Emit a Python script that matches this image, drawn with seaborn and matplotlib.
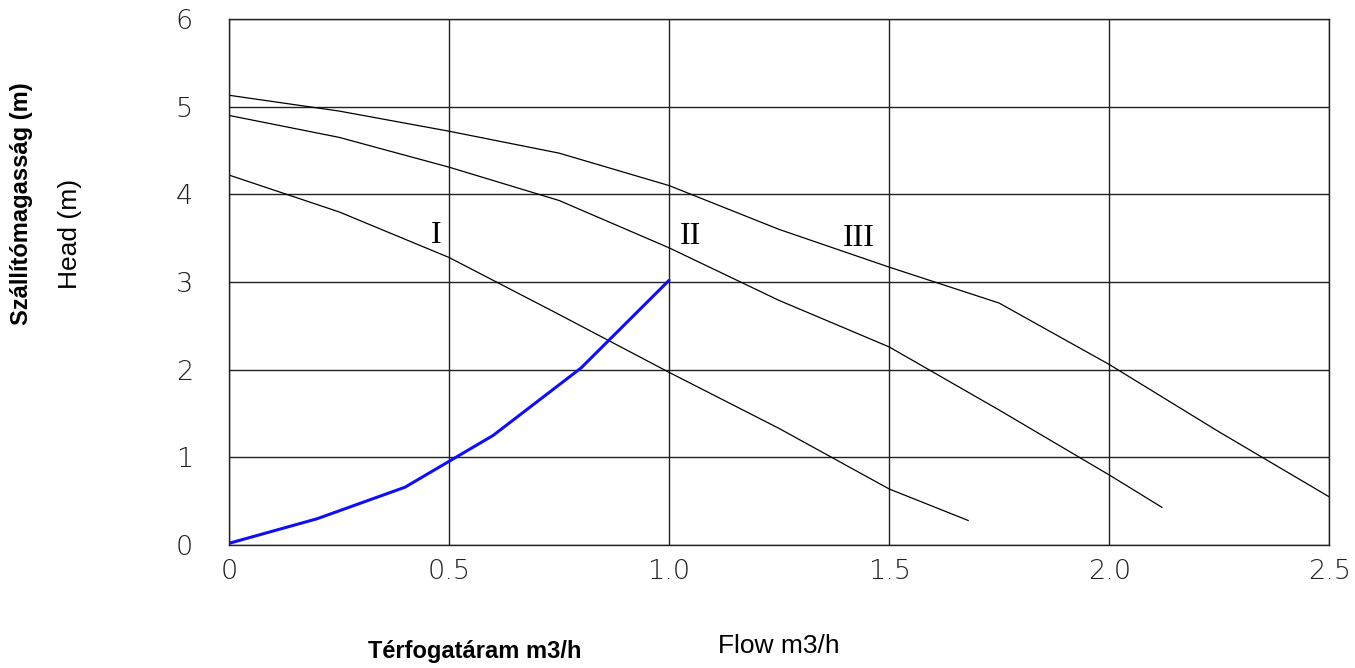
import pandas as pd
import seaborn as sns
import matplotlib
matplotlib.use('Agg')
import matplotlib.pyplot as plt

# Pump curves (flow m3/h -> head m)
flow_I = [0, 0.25, 0.5, 0.75, 1.0, 1.25, 1.5, 1.68]
head_I = [4.22, 3.80, 3.28, 2.63, 1.97, 1.33, 0.64, 0.28]

flow_II = [0, 0.25, 0.5, 0.75, 1.0, 1.25, 1.5, 1.75, 2.0, 2.12]
head_II = [4.90, 4.65, 4.31, 3.93, 3.39, 2.79, 2.26, 1.54, 0.80, 0.43]

flow_III = [0, 0.25, 0.5, 0.75, 1.0, 1.25, 1.5, 1.75, 2.0, 2.25, 2.5]
head_III = [5.13, 4.95, 4.72, 4.47, 4.10, 3.60, 3.17, 2.76, 2.06, 1.29, 0.55]

# System curve (blue)
flow_sys = [0, 0.2, 0.4, 0.6, 0.8, 1.0]
head_sys = [0.02, 0.30, 0.66, 1.25, 2.02, 3.02]

curve_labels = ['I', 'II', 'III']
label_pos = [(0.47, 3.53), (1.049, 3.52), (1.43, 3.50)]

x_ticks = [0, 0.5, 1.0, 1.5, 2.0, 2.5]
x_tick_labels = ['0', '0.5', '1.0', '1.5', '2.0', '2.5']
y_ticks = [0, 1, 2, 3, 4, 5, 6]

# long table for seaborn
frames = []
for name, xs, ys in [('I', flow_I, head_I), ('II', flow_II, head_II), ('III', flow_III, head_III)]:
    frames.append(pd.DataFrame({'flow': xs, 'head': ys, 'curve': name}))
df = pd.concat(frames, ignore_index=True)
df_sys = pd.DataFrame({'flow': flow_sys, 'head': head_sys})

sns.set_style('white')
plt.rcParams['font.family'] = ['DejaVu Sans']
plt.rcParams['text.color'] = 'black'

fig = plt.figure(figsize=(13.55, 6.68), dpi=100)
ax = fig.add_axes([0.169, 0.184, 0.812, 0.7876])

sns.lineplot(data=df, x='flow', y='head', hue='curve', units='curve',
             estimator=None, palette=['black'] * 3, linewidth=0.9,
             legend=False, sort=False, ax=ax)
sns.lineplot(data=df_sys, x='flow', y='head', color='#1010ee', linewidth=2.2,
             estimator=None, sort=False, ax=ax)

for lab, (lx, ly) in zip(curve_labels, label_pos):
    ax.text(lx, ly, lab, family='Liberation Serif', fontsize=23,
            ha='center', va='center', color='black')

ax.set_xlim(0, 2.5)
ax.set_ylim(0, 6)
ax.set_xticks(x_ticks)
ax.set_xticklabels(x_tick_labels)
ax.set_yticks(y_ticks)
ax.grid(True, color='#222222', linewidth=1.0)
for sp in ax.spines.values():
    sp.set_color('#222222')
    sp.set_linewidth(1.0)
ax.tick_params(axis='both', length=0, labelsize=19.5, labelcolor='#222222')
ax.tick_params(axis='x', pad=10)
ax.tick_params(axis='y', pad=26)
for t in ax.get_xticklabels() + ax.get_yticklabels():
    t.set_fontweight('light')
ax.set_xlabel('')
ax.set_ylabel('')

fig.text(0.016, 0.695, 'Szállítómagasság (m)', rotation=90, fontsize=17,
         fontweight='bold', family='Liberation Sans', ha='center', va='center',
         color='black')
fig.text(0.052, 0.65, 'Head (m)', rotation=90, fontsize=19,
         family='Liberation Sans', ha='center', va='center', color='black')
fig.text(0.3506, 0.024, 'Térfogatáram m3/h', fontsize=17, fontweight='bold',
         family='Liberation Sans', ha='center', va='center', color='black')
fig.text(0.575, 0.033, 'Flow m3/h', fontsize=19,
         family='Liberation Sans', ha='center', va='center', color='black')

fig.savefig('out.png', dpi=100)
